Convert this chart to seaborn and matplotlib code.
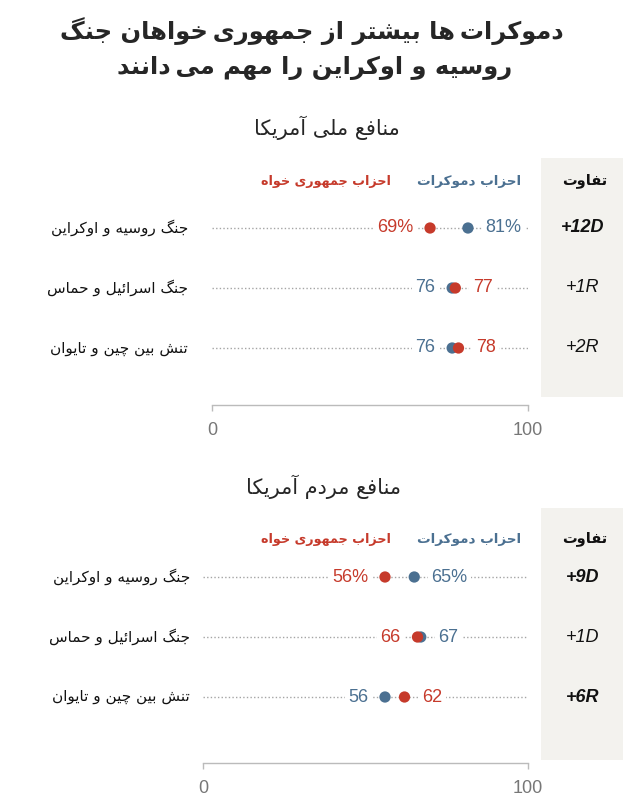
import numpy as np
import pandas as pd
import matplotlib
matplotlib.use("Agg")
import matplotlib.pyplot as plt
import seaborn as sns
from matplotlib.patches import Rectangle
from matplotlib.transforms import blended_transform_factory

# ---------------- data ----------------
title_lines = ["دموکرات‌ها بیشتر از جمهوری‌خواهان جنگ",
               "روسیه و اوکراین را مهم می‌دانند"]
section_titles = ["منافع ملی آمریکا", "منافع مردم آمریکا"]
legend_dem = "احزاب دموکرات"
legend_rep = "احزاب جمهوری خواه"
diff_header = "تفاوت"
issues = ["جنگ روسیه و اوکراین", "جنگ اسرائیل و حماس", "تنش بین چین و تایوان"]

dem_national = [81, 76, 76]
rep_national = [69, 77, 78]
diff_national = ["+12D", "+1R", "+2R"]
bold_national = [True, False, False]

dem_people = [65, 67, 56]
rep_people = [56, 66, 62]
diff_people = ["+9D", "+1D", "+6R"]
bold_people = [True, False, True]

axis_ticks = [0, 100]

BLUE = "#4b7091"
RED = "#c63a2b"
BAND = "#f3f2ee"

# ---------------- minimal Persian shaping ----------------
_dual = {'ب': 0xFE8F, 'پ': 0xFB56, 'ت': 0xFE95, 'ث': 0xFE99, 'ج': 0xFE9D, 'چ': 0xFB7A,
         'ح': 0xFEA1, 'خ': 0xFEA5, 'س': 0xFEB1, 'ش': 0xFEB5, 'ص': 0xFEB9, 'ض': 0xFEBD,
         'ط': 0xFEC1, 'ظ': 0xFEC5, 'ع': 0xFEC9, 'غ': 0xFECD, 'ف': 0xFED1, 'ق': 0xFED5,
         'ک': 0xFB8E, 'گ': 0xFB92, 'ل': 0xFEDD, 'م': 0xFEE1, 'ن': 0xFEE5, 'ه': 0xFEE9,
         'ی': 0xFBFC, 'ئ': 0xFE89}
_right = {'ا': 0xFE8D, 'آ': 0xFE81, 'د': 0xFEA9, 'ذ': 0xFEAB, 'ر': 0xFEAD, 'ز': 0xFEAF,
          'ژ': 0xFB8A, 'و': 0xFEED}
FORMS = {k: tuple(range(v, v + 4)) for k, v in _dual.items()}
FORMS.update({k: (v, v + 1) for k, v in _right.items()})


def fa(s):
    out = []
    n = len(s)
    for i, c in enumerate(s):
        if c not in FORMS:
            out.append('\u2009' if c == '\u200c' else c)
            continue
        f = FORMS[c]
        prev = s[i - 1] if i > 0 else None
        nxt = s[i + 1] if i < n - 1 else None
        jp = prev in FORMS and len(FORMS[prev]) == 4
        jn = len(f) == 4 and nxt in FORMS
        if jp and jn:
            g = f[3]
        elif jp:
            g = f[1]
        elif jn:
            g = f[2]
        else:
            g = f[0]
        out.append(chr(g))
    return ''.join(out)[::-1]


# ---------------- figure ----------------
sns.set_theme(style="white")
plt.rcParams['font.family'] = ['Liberation Sans', 'DejaVu Sans']

W, H = 639, 801
fig = plt.figure(figsize=(W / 100, H / 100), dpi=100)
fig.patch.set_facecolor("white")


def fx(px):
    return px / W


def fy(py):
    return 1 - py / H


fig.text(fx(312), fy(31), fa(title_lines[0]), ha='center', va='center',
         fontsize=17.4, fontweight='bold', family='DejaVu Sans')
fig.text(fx(315), fy(68), fa(title_lines[1]), ha='center', va='center',
         fontsize=17.4, fontweight='bold', family='DejaVu Sans')

sections = [
    dict(dem=dem_national, rep=rep_national, diffs=diff_national, bold=bold_national,
         title=section_titles[0], x0=212, x1=528, top=198, bottom=405, ybot=2.95,
         lab_right=188, band=(541, 158, 623, 397), title_y=128, leg_y=181, title_x=327),
    dict(dem=dem_people, rep=rep_people, diffs=diff_people, bold=bold_people,
         title=section_titles[1], x0=203, x1=528, top=547, bottom=763, ybot=3.1,
         lab_right=190, band=(541, 508, 623, 760), title_y=487, leg_y=539, title_x=323),
]

for sec in sections:
    bx0, by0, bx1, by1 = sec['band']
    fig.patches.append(Rectangle((fx(bx0), fy(by1)), (bx1 - bx0) / W, (by1 - by0) / H,
                                 transform=fig.transFigure, fc=BAND, ec='none', zorder=-1))
    fig.text(fx(sec['title_x']), fy(sec['title_y']), fa(sec['title']), ha='center', va='center',
             fontsize=15, family='DejaVu Sans')
    fig.text(fx(521), fy(sec['leg_y']), fa(legend_dem), ha='right', va='center',
             fontsize=9.7, fontweight='bold', color=BLUE, family='DejaVu Sans')
    fig.text(fx(391), fy(sec['leg_y']), fa(legend_rep), ha='right', va='center',
             fontsize=9.2, fontweight='bold', color=RED, family='DejaVu Sans')
    fig.text(fx(585), fy(sec['leg_y']), fa(diff_header), ha='center', va='center',
             fontsize=10.5, fontweight='bold', color='#111111', family='DejaVu Sans')

    ax = fig.add_axes([fx(sec['x0']), fy(sec['bottom']), (sec['x1'] - sec['x0']) / W,
                       (sec['bottom'] - sec['top']) / H])
    ax.patch.set_alpha(0)
    rows = list(range(len(issues)))
    df = pd.DataFrame({
        'value': list(sec['dem']) + list(sec['rep']),
        'row': rows + rows,
        'party': ['dem'] * len(rows) + ['rep'] * len(rows),
    })
    ax.hlines(rows, 0, 100, colors='#a5a5a5', linestyles=(0, (1, 1.6)), lw=1, zorder=1)
    sns.scatterplot(data=df, x='value', y='row', hue='party', hue_order=['dem', 'rep'],
                    palette={'dem': BLUE, 'rep': RED}, s=66, linewidth=0, legend=False,
                    ax=ax, zorder=3, clip_on=False)
    for i in rows:
        d, r = sec['dem'][i], sec['rep'][i]
        suffix = '%' if i == 0 else ''
        pts = [(d, BLUE), (r, RED)]
        lo, hi = sorted(pts, key=lambda p: p[0]) if d != r else pts
        bb = dict(boxstyle='square,pad=0.2', fc='white', ec='none')
        ax.annotate(f"{lo[0]}{suffix}", (lo[0], i), xytext=(-12, 0), textcoords='offset points',
                    ha='right', va='center', fontsize=13, color=lo[1], bbox=bb, zorder=2)
        ax.annotate(f"{hi[0]}{suffix}", (hi[0], i), xytext=(12.5, 0), textcoords='offset points',
                    ha='left', va='center', fontsize=13, color=hi[1], bbox=bb, zorder=2)

    trans = blended_transform_factory(fig.transFigure, ax.transData)
    for i, name in enumerate(issues):
        ax.text(fx(sec['lab_right']), i, fa(name), transform=trans, ha='right', va='center',
                fontsize=11, color='#111111', family='DejaVu Sans', clip_on=False)
        ax.text(fx(583), i, sec['diffs'][i], transform=trans, ha='center', va='center',
                fontsize=13, style='italic', fontweight='bold' if sec['bold'][i] else 'normal',
                color='#111111', clip_on=False, zorder=5)

    ax.set_xlim(0, 100)
    ax.set_ylim(sec['ybot'], -0.5)
    ax.set_xticks(axis_ticks)
    ax.set_xticklabels([str(t) for t in axis_ticks])
    ax.set_yticks([])
    ax.set_xlabel('')
    ax.set_ylabel('')
    for s in ['top', 'left', 'right']:
        ax.spines[s].set_visible(False)
    ax.spines['bottom'].set_color('#bbbbbb')
    ax.spines['bottom'].set_linewidth(1)
    ax.tick_params(axis='x', direction='out', length=4, width=1, color='#bbbbbb',
                   labelcolor='#777777', labelsize=13, pad=8, bottom=True)

fig.savefig("out.png", dpi=100, facecolor='white')
